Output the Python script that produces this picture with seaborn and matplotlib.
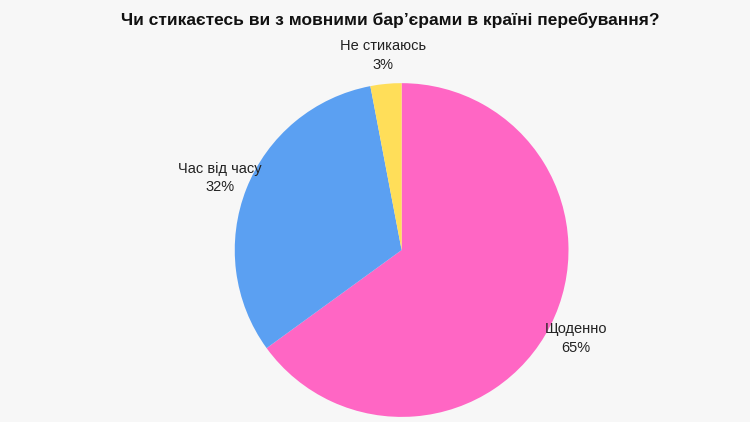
import matplotlib
matplotlib.use("Agg")
import matplotlib.pyplot as plt
import seaborn as sns

labels = ["Щоденно", "Час від часу", "Не стикаюсь"]
values = [65, 32, 3]
colors = ["#FF66C4", "#5BA0F2", "#FFDE59"]

sns.set_theme(style="white")
plt.rcParams['font.family'] = ['Liberation Sans', 'DejaVu Sans']

bg = "#F7F7F7"
fig = plt.figure(figsize=(7.5, 4.22), dpi=100)
fig.patch.set_facecolor(bg)
ax = fig.add_axes([0.313, 0.012, 0.445, 0.791])
ax.set_facecolor(bg)

texts = [f"{l}\n{v}%" for l, v in zip(labels, values)]
ax.pie(values, colors=colors, startangle=90, counterclock=False,
       labels=texts, labeldistance=1.17, frame=False,
       wedgeprops=dict(linewidth=0),
       textprops=dict(fontsize=10.5, color="#222222", ha="center", va="center", linespacing=1.4))
ax.set_xlim(-1, 1)
ax.set_ylim(-1, 1)
ax.set_aspect("equal")
ax.axis("off")

fig.text(0.52, 0.953, "Чи стикаєтесь ви з мовними бар’єрами в країні перебування?",
         ha="center", va="center", fontsize=12.5, fontweight="bold", color="#111111")

fig.savefig("out.png", dpi=100, facecolor=bg)
